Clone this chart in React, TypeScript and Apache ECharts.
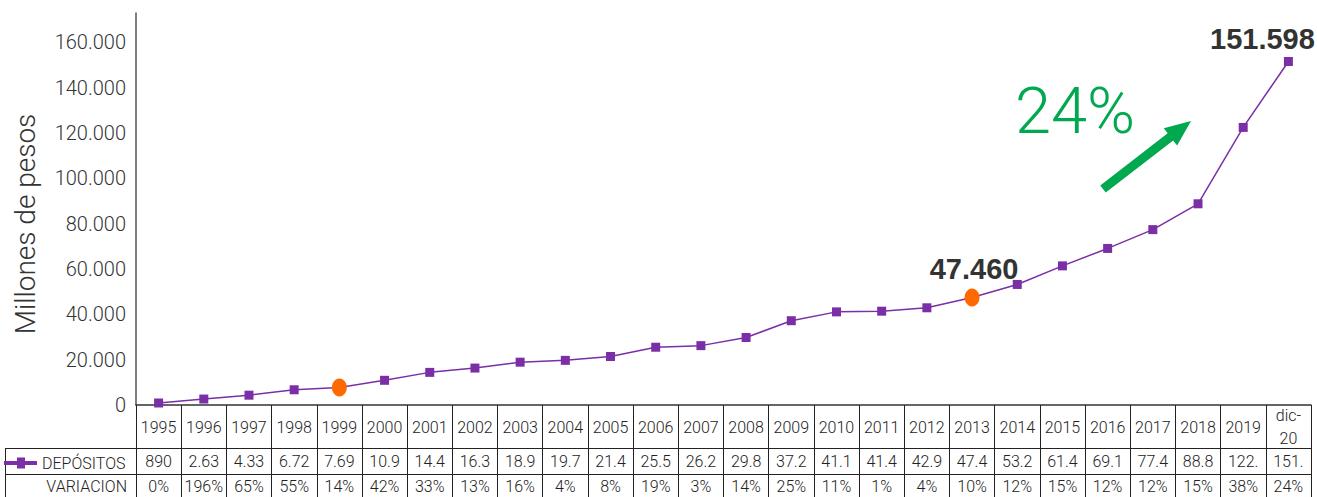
import React, { useEffect, useRef } from "react";
import * as echarts from "echarts";

const years = ["1995","1996","1997","1998","1999","2000","2001","2002","2003","2004","2005","2006","2007","2008","2009","2010","2011","2012","2013","2014","2015","2016","2017","2018","2019","dic-\n20"];
const depositos = [890,2630,4330,6720,7690,10900,14400,16300,18900,19700,21400,25500,26200,29800,37200,41100,41400,42900,47460,53200,61400,69100,77400,88800,122500,151598];
const depositosTabla = ["890","2.63","4.33","6.72","7.69","10.9","14.4","16.3","18.9","19.7","21.4","25.5","26.2","29.8","37.2","41.1","41.4","42.9","47.4","53.2","61.4","69.1","77.4","88.8","122.","151."];
const variacion = ["0%","196%","65%","55%","14%","42%","33%","13%","16%","4%","8%","19%","3%","14%","25%","11%","1%","4%","10%","12%","15%","12%","12%","15%","38%","24%"];
const highlighted = [4, 18];
const labelled: Record<number, string> = { 18: "47.460", 25: "151.598" };
const yTicks = [0, 20000, 40000, 60000, 80000, 100000, 120000, 140000, 160000];

const PURPLE = "#7B2FA6";
const ORANGE = "#FF6A00";
const GREEN = "#00A84F";
const FONT = "Roboto";

function fmt(v: number) {
  return String(v).replace(/\B(?=(\d{3})+(?!\d))/g, ".");
}

export default function App() {
  const ref = useRef<HTMLDivElement>(null);
  useEffect(() => {
    if (!ref.current) return;
    const chart = echarts.init(ref.current, null, { renderer: "svg" });

    // arrow geometry (annotation)
    const tail = [1103, 189];
    const tip = [1191, 121];
    const dx = tip[0] - tail[0], dy = tip[1] - tail[1];
    const len = Math.hypot(dx, dy);
    const ux = dx / len, uy = dy / len;
    const nx = -uy, ny = ux;
    const sw = 4.5, hw = 11, hl = 26;
    const bx = tip[0] - ux * hl, by = tip[1] - uy * hl;
    const arrowPts = [
      [tail[0] + nx * sw, tail[1] + ny * sw],
      [bx + nx * sw, by + ny * sw],
      [bx + nx * hw, by + ny * hw],
      tip,
      [bx - nx * hw, by - ny * hw],
      [bx - nx * sw, by - ny * sw],
      [tail[0] - nx * sw, tail[1] - ny * sw],
    ];

    const seriesData = depositos.map((v, i) => {
      const item: any = { value: v };
      if (highlighted.includes(i)) {
        item.symbol = "circle";
        item.symbolSize = [15, 18];
        item.itemStyle = { color: ORANGE };
      }
      if (labelled[i]) {
        item.label = {
          show: true,
          position: "top",
          formatter: labelled[i],
          fontFamily: "Liberation Sans",
          fontWeight: "bold",
          fontSize: 29,
          color: "#333",
          distance: i === 25 ? 3 : 5,
          offset: i === 25 ? [-26, 0] : [2, 0],
        };
      }
      return item;
    });

    const tableLabel = {
      fontFamily: FONT,
      fontSize: 16,
      fontWeight: 300,
      color: "#222",
      interval: 0,
      verticalAlign: "middle",
    };

    chart.setOption({
      animation: false,
      backgroundColor: "#fff",
      grid: { left: 136, right: 6, top: 13, bottom: 92, containLabel: false },
      legend: {
        left: 4,
        top: 455,
        padding: 0,
        itemWidth: 33,
        itemHeight: 11,
        icon: "path://M0,3.5 H13 V0 H21 V3.5 H33 V7.5 H21 V11 H13 V7.5 H0 Z",
        itemStyle: { color: PURPLE },
        textStyle: { fontFamily: FONT, fontSize: 16, fontWeight: 300, color: "#222" },
        data: ["DEPÓSITOS"],
      },
      xAxis: [
        {
          type: "category",
          data: years,
          position: "bottom",
          boundaryGap: true,
          axisLine: { show: true, lineStyle: { color: "#333", width: 1.5 } },
          axisTick: { show: true, length: 100, interval: 0, lineStyle: { color: "#222", width: 1 } },
          axisLabel: { ...tableLabel, margin: 22, lineHeight: 23 },
        },
        {
          type: "category",
          data: depositosTabla,
          position: "bottom",
          offset: 43,
          boundaryGap: true,
          axisLine: { show: true, lineStyle: { color: "#222", width: 1 } },
          axisTick: { show: false },
          axisLabel: { ...tableLabel, margin: 13 },
        },
        {
          type: "category",
          data: variacion,
          position: "bottom",
          offset: 69,
          boundaryGap: true,
          axisLine: { show: true, lineStyle: { color: "#222", width: 1 } },
          axisTick: { show: false },
          axisLabel: { ...tableLabel, margin: 12 },
        },
      ],
      yAxis: {
        type: "value",
        min: 0,
        max: 173000,
        interval: 20000,
        axisLine: { show: true, lineStyle: { color: "#555", width: 1.5 } },
        axisTick: { show: false },
        splitLine: { show: false },
        axisLabel: {
          showMaxLabel: false,
          fontFamily: FONT,
          fontSize: 20,
          fontWeight: 300,
          color: "#333",
          margin: 10,
          formatter: (v: number) => (yTicks.includes(v) ? fmt(v) : ""),
        },
      },
      series: [
        {
          name: "DEPÓSITOS",
          type: "line",
          xAxisIndex: 0,
          data: seriesData,
          symbol: "rect",
          symbolSize: 9,
          lineStyle: { color: PURPLE, width: 1.5 },
          itemStyle: { color: PURPLE },
        },
      ],
      graphic: [
        {
          type: "text",
          x: 25,
          y: 224,
          rotation: Math.PI / 2,
          style: { text: "Millones de pesos", fontFamily: FONT, fontSize: 28, fontWeight: 300, fill: "#333", align: "center", verticalAlign: "middle" },
        },
        { type: "line", shape: { x1: 5, y1: 448.5, x2: 136, y2: 448.5 }, style: { stroke: "#222", lineWidth: 1 } },
        { type: "line", shape: { x1: 5, y1: 474.5, x2: 136, y2: 474.5 }, style: { stroke: "#222", lineWidth: 1 } },
        { type: "line", shape: { x1: 5.5, y1: 448, x2: 5.5, y2: 497 }, style: { stroke: "#222", lineWidth: 1 } },
        {
          type: "text",
          x: 127,
          y: 486,
          style: { text: "VARIACION", fontFamily: FONT, fontSize: 16, fontWeight: 300, fill: "#222", align: "right", verticalAlign: "middle" },
        },
        {
          type: "text",
          x: 1015,
          y: 111,
          style: { text: "24%", fontFamily: FONT, fontWeight: 300, fontSize: 65, fill: GREEN, align: "left", verticalAlign: "middle" },
        },
        { type: "polygon", shape: { points: arrowPts }, style: { fill: GREEN } },
      ],
    });
    return () => chart.dispose();
  }, []);
  return (
    <div
      ref={ref}
      style={{ position: "fixed", left: 0, top: 0, width: 1317, height: 497 }}
    />
  );
}
